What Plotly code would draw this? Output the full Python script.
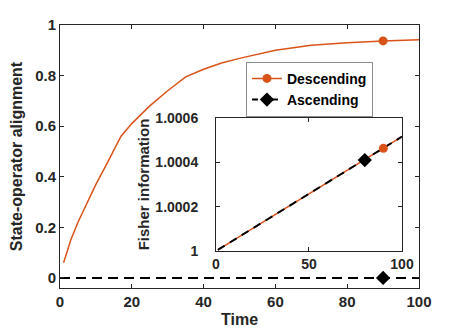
import plotly.graph_objects as go

# main panel: state-operator alignment vs time
time_desc = [1, 3, 5, 8, 10, 13, 17, 20, 25, 30, 35, 40, 45, 50, 55, 60, 70, 80, 90, 100]
align_desc = [0.06, 0.15, 0.22, 0.31, 0.37, 0.45, 0.56, 0.61, 0.68, 0.74, 0.795, 0.825,
              0.85, 0.868, 0.885, 0.90, 0.92, 0.93, 0.937, 0.942]
time_asc = [0, 100]
align_asc = [0, 0]
mark_desc = ([90], [0.937])
mark_asc = ([90], [0])

# inset: Fisher information vs time
inset_time = [1, 100]
fisher_desc = [1.0000052, 1.000516]
fisher_asc = [1.0000052, 1.000516]
inset_mark_desc = ([90], [1.000463])
inset_mark_asc = ([80], [1.00041])

orange = '#D95319'
axcol = '#262626'
fnt = 'Liberation Sans, Arial, sans-serif'
dash = '10px,6px'

fig = go.Figure()
fig.add_trace(go.Scatter(x=time_desc, y=align_desc, mode='lines', line=dict(color=orange, width=1.5),
                         showlegend=False, hoverinfo='skip'))
fig.add_trace(go.Scatter(x=mark_desc[0], y=mark_desc[1], mode='markers',
                         marker=dict(color=orange, size=9, symbol='circle'), showlegend=False))
fig.add_trace(go.Scatter(x=time_asc, y=align_asc, mode='lines', line=dict(color='black', width=2, dash=dash),
                         showlegend=False))
fig.add_trace(go.Scatter(x=mark_asc[0], y=mark_asc[1], mode='markers',
                         marker=dict(color='black', size=11, symbol='diamond'), showlegend=False))

# legend entries
fig.add_trace(go.Scatter(x=[None], y=[None], mode='lines+markers', name='<b>Descending</b>',
                         line=dict(color=orange, width=1.5), marker=dict(color=orange, size=9)))
fig.add_trace(go.Scatter(x=[None], y=[None], mode='lines+markers', name='<b>Ascending</b>',
                         line=dict(color='black', width=2, dash='6px,4px'),
                         marker=dict(color='black', size=11, symbol='diamond')))

# inset
fig.add_trace(go.Scatter(x=inset_time, y=fisher_desc, mode='lines', line=dict(color=orange, width=1.5),
                         xaxis='x2', yaxis='y2', showlegend=False))
fig.add_trace(go.Scatter(x=inset_time, y=fisher_asc, mode='lines', line=dict(color='black', width=2, dash='8px,6px'),
                         xaxis='x2', yaxis='y2', showlegend=False))
fig.add_trace(go.Scatter(x=inset_mark_desc[0], y=inset_mark_desc[1], mode='markers',
                         marker=dict(color=orange, size=9), xaxis='x2', yaxis='y2', showlegend=False))
fig.add_trace(go.Scatter(x=inset_mark_asc[0], y=inset_mark_asc[1], mode='markers',
                         marker=dict(color='black', size=11, symbol='diamond'), xaxis='x2', yaxis='y2',
                         showlegend=False))

ax_common = dict(showline=True, linecolor=axcol, linewidth=1, mirror='ticks', ticks='inside', ticklen=4,
                 tickcolor=axcol, showgrid=False, zeroline=False, automargin=False)

# page body has an 8px margin, so the figure is 8px smaller and margins shifted
fig.update_layout(
    width=455, height=325,
    margin=dict(l=52, r=44, t=17, b=45),
    paper_bgcolor='white', plot_bgcolor='white',
    font=dict(family=fnt, color=axcol),
    xaxis=dict(range=[0, 100], tickvals=[0, 20, 40, 60, 80, 100],
               ticktext=['<b>0</b>', '<b>20</b>', '<b>40</b>', '<b>60</b>', '<b>80</b>', '<b>100</b>'],
               tickfont=dict(family=fnt, size=15, color=axcol),
               title=dict(text='<b>Time</b>', font=dict(size=16), standoff=4), **ax_common),
    yaxis=dict(range=[-0.04, 1], tickvals=[0, 0.2, 0.4, 0.6, 0.8, 1],
               ticktext=['<b>0</b>', '<b>0.2</b>', '<b>0.4</b>', '<b>0.6</b>', '<b>0.8</b>', '<b>1</b>'],
               tickfont=dict(family=fnt, size=15, color=axcol),
               title=dict(text='<b>State-operator alignment</b>', font=dict(size=16), standoff=8), **ax_common),
    xaxis2=dict(domain=[0.4345, 0.9526], anchor='y2', range=[0, 100], tickvals=[0, 50, 100],
                ticktext=['<b>0</b>', '<b>50</b>', '<b>100</b>'],
                tickfont=dict(family=fnt, size=14, color=axcol), **ax_common),
    yaxis2=dict(domain=[0.1407, 0.6464], anchor='x2', range=[1, 1.0006],
                tickvals=[1, 1.0002, 1.0004, 1.0006],
                ticktext=['<b>1</b>', '<b>1.0002</b>', '<b>1.0004</b>', '<b>1.0006</b>'],
                tickfont=dict(family=fnt, size=14, color=axcol), ticklabelstandoff=14,
                title=dict(text='<b>Fisher information</b>', font=dict(size=15), standoff=2), **ax_common),
    legend=dict(x=0.518, y=0.86, xanchor='left', yanchor='top', bgcolor='white',
                bordercolor='#8c8c8c', borderwidth=1, font=dict(family=fnt, size=14, color='black'),
                tracegroupgap=0, itemwidth=30),
)

fig.write_html("out.html")
